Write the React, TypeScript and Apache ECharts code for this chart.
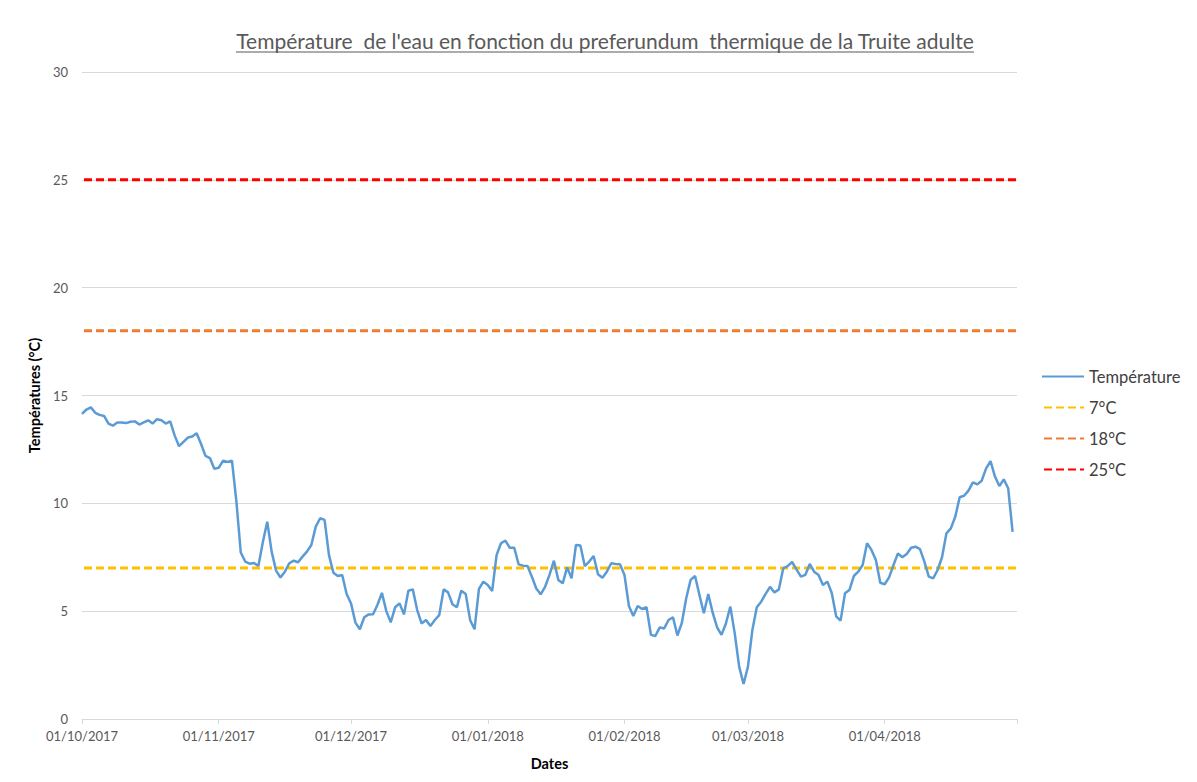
import React, { useEffect, useRef } from 'react';
import * as echarts from 'echarts';

const FONT = 'Lato, "Open Sans", sans-serif';
const TITLE = "Température  de l'eau en fonction du preferundum  thermique de la Truite adulte";
const X_NAME = 'Dates';
const Y_NAME = 'Températures (°C)';

const START_DATE = [2017, 9, 1];
const DAY_COUNT = 213;
const TICK_LABELS = ['01/10/2017', '01/11/2017', '01/12/2017', '01/01/2018', '01/02/2018', '01/03/2018', '01/04/2018'];
const END_TICK = '01/05/2018';

const TEMPERATURE = [
  14.15, 14.35, 14.45, 14.2, 14.1, 14.05, 13.7, 13.6, 13.75, 13.75,
  13.72, 13.78, 13.8, 13.65, 13.75, 13.85, 13.7, 13.9, 13.85, 13.7,
  13.8, 13.15, 12.65, 12.85, 13.05, 13.1, 13.25, 12.75, 12.2, 12.1,
  11.6, 11.65, 11.98, 11.92, 11.98, 10.1, 7.72, 7.3, 7.2, 7.23,
  7.1, 8.2, 9.15, 7.76, 6.88, 6.56, 6.83, 7.22, 7.34, 7.27,
  7.53, 7.76, 8.07, 8.92, 9.31, 9.23, 7.6, 6.78, 6.63, 6.68,
  5.8, 5.36, 4.47, 4.16, 4.72, 4.85, 4.86, 5.3, 5.85, 5.0,
  4.48, 5.18, 5.36, 4.85, 5.95, 6.01, 5.05, 4.43, 4.59, 4.31,
  4.59, 4.82, 6.01, 5.87, 5.32, 5.18, 5.95, 5.8, 4.59, 4.16,
  6.03, 6.37, 6.21, 5.93, 7.6, 8.15, 8.27, 7.94, 7.94, 7.17,
  7.11, 7.1, 6.6, 6.05, 5.78, 6.13, 6.68, 7.34, 6.45, 6.29,
  7.03, 6.52, 8.07, 8.04, 7.09, 7.3, 7.56, 6.71, 6.55, 6.83,
  7.22, 7.19, 7.17, 6.68, 5.24, 4.78, 5.24, 5.1, 5.18, 3.9,
  3.85, 4.25, 4.2, 4.59, 4.72, 3.87, 4.45, 5.6, 6.45, 6.63,
  5.75, 4.9, 5.8, 4.93, 4.25, 3.9, 4.43, 5.21, 3.97, 2.43,
  1.62, 2.43, 4.13, 5.18, 5.44, 5.8, 6.13, 5.87, 6.01, 6.99,
  7.09, 7.28, 6.94, 6.6, 6.68, 7.19, 6.83, 6.68, 6.21, 6.37,
  5.84, 4.76, 4.56, 5.83, 5.98, 6.63, 6.83, 7.14, 8.15, 7.84,
  7.37, 6.32, 6.25, 6.57, 7.14, 7.68, 7.5, 7.65, 7.94, 7.99,
  7.88, 7.3, 6.6, 6.52, 6.91, 7.5, 8.61, 8.84, 9.38, 10.28,
  10.35, 10.59, 10.97, 10.88, 11.05, 11.62, 11.96, 11.24, 10.8, 11.11,
  10.7, 8.68,
];

const THRESHOLD_VALUES = [7, 18, 25];
const THRESHOLD_NAMES = ['7°C', '18°C', '25°C'];
const THRESHOLD_COLORS = ['#FFC000', '#ED7D31', '#FF0000'];

function pad(n: number) {
  return n < 10 ? '0' + n : String(n);
}

function buildCategories(): string[] {
  const start = Date.UTC(START_DATE[0], START_DATE[1], START_DATE[2]);
  const out: string[] = [];
  for (let i = 0; i < DAY_COUNT; i++) {
    const d = new Date(start + i * 86400000);
    out.push(pad(d.getUTCDate()) + '/' + pad(d.getUTCMonth() + 1) + '/' + d.getUTCFullYear());
  }
  return out;
}

function measure(text: string, font: string) {
  const c = document.createElement('canvas');
  const ctx = c.getContext('2d');
  if (!ctx) return text.length * 9;
  ctx.font = font;
  return ctx.measureText(text).width;
}

export default function App() {
  const ref = useRef<HTMLDivElement>(null);

  useEffect(() => {
    document.body.style.margin = '0';
    if (!ref.current) return;
    const chart = echarts.init(ref.current, undefined, { renderer: 'svg' });
    const categories = buildCategories();
    const titleFont = '21px ' + FONT;
    const titleW = measure(TITLE, titleFont);
    const titleX = 605;

    const option: any = {
      animation: false,
      backgroundColor: '#ffffff',
      textStyle: { fontFamily: FONT },
      grid: { left: 82, right: 180, top: 72, bottom: 63 },
      legend: {
        orient: 'vertical',
        left: 1036,
        top: 363,
        itemWidth: 42,
        itemHeight: 14,
        itemGap: 14,
        itemStyle: { opacity: 0 },
        textStyle: { fontSize: 16.5, color: '#404040', fontFamily: FONT },
        data: ['Température', ...THRESHOLD_NAMES],
      },
      xAxis: {
        type: 'category',
        data: categories,
        boundaryGap: false,
        name: X_NAME,
        nameLocation: 'middle',
        nameGap: 37,
        nameTextStyle: { fontWeight: 'bold', color: '#000000', fontSize: 14.5, fontFamily: FONT },
        axisLine: { lineStyle: { color: '#d9d9d9', width: 1 } },
        axisTick: {
          interval: (_i: number, v: string) => TICK_LABELS.includes(v) || v === END_TICK,
          length: 5,
          lineStyle: { color: '#d9d9d9' },
        },
        axisLabel: {
          interval: (_i: number, v: string) => TICK_LABELS.includes(v),
          color: '#595959',
          fontSize: 13,
          margin: 10,
          fontFamily: FONT,
        },
        splitLine: { show: false },
      },
      yAxis: {
        type: 'value',
        min: 0,
        max: 30,
        interval: 5,
        name: Y_NAME,
        nameLocation: 'middle',
        nameGap: 40,
        nameTextStyle: { fontWeight: 'bold', color: '#000000', fontSize: 14.5, fontFamily: FONT },
        axisLine: { show: false },
        axisTick: { show: false },
        axisLabel: { color: '#595959', fontSize: 13, margin: 14, fontFamily: FONT },
        splitLine: { lineStyle: { color: '#d9d9d9', width: 1 } },
      },
      series: [
        {
          name: 'Température',
          type: 'line',
          data: TEMPERATURE,
          symbol: 'none',
          showSymbol: false,
          color: '#5B9BD5',
          lineStyle: { color: '#5B9BD5', width: 2.5 },
          z: 5,
        },
        ...THRESHOLD_VALUES.map((t, k) => ({
          name: THRESHOLD_NAMES[k],
          type: 'line',
          data: categories.map(() => t),
          symbol: 'none',
          showSymbol: false,
          color: THRESHOLD_COLORS[k],
          lineStyle: { color: THRESHOLD_COLORS[k], width: 3, type: [8, 4], dashOffset: 10 },
          z: 3,
        })),
      ],
      graphic: [
        {
          type: 'text',
          x: titleX,
          y: 40,
          style: {
            text: TITLE,
            font: titleFont,
            fill: '#595959',
            textAlign: 'center',
            textVerticalAlign: 'middle',
          },
        },
        {
          type: 'line',
          shape: { x1: titleX - titleW / 2, y1: 52, x2: titleX + titleW / 2, y2: 52 },
          style: { stroke: '#595959', lineWidth: 1 },
        },
      ],
    };
    chart.setOption(option);
    return () => chart.dispose();
  }, []);

  return <div ref={ref} style={{ width: 1197, height: 782 }} />;
}
